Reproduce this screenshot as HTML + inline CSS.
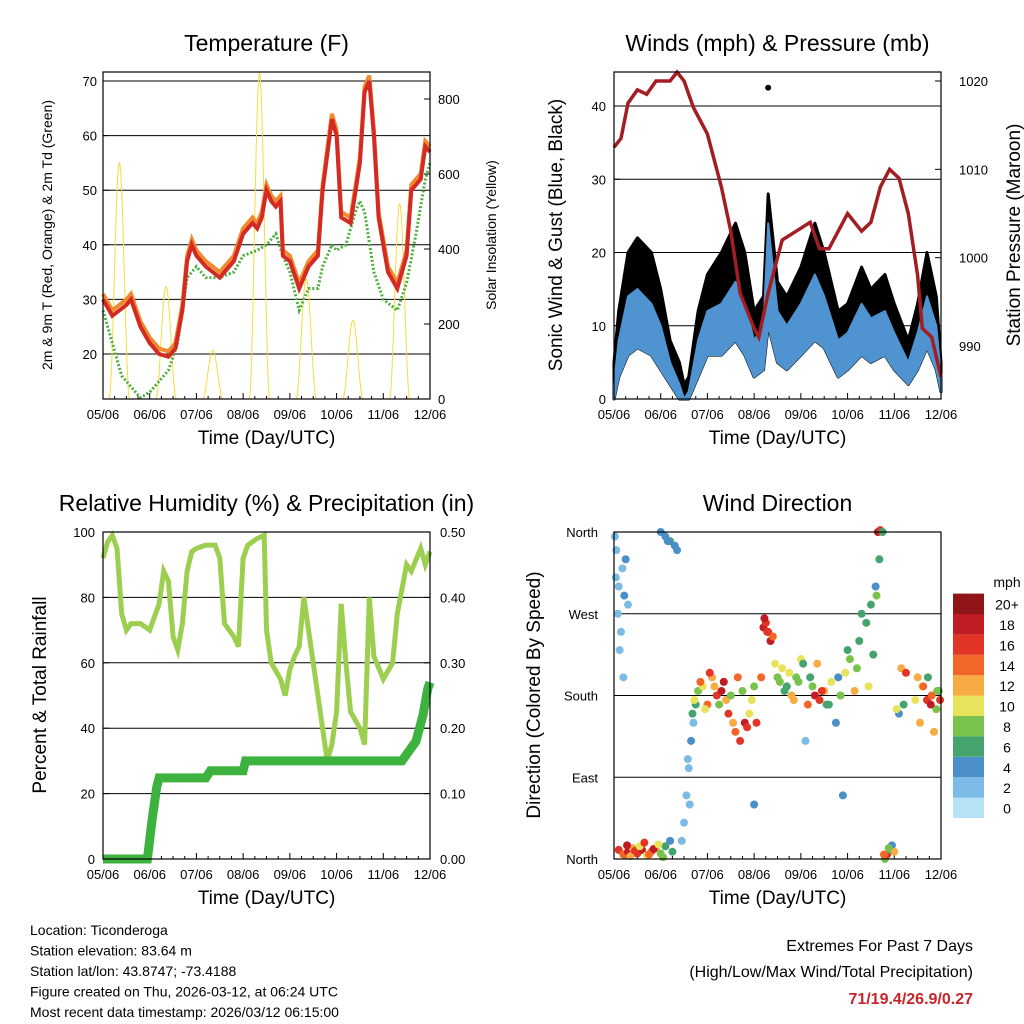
<!DOCTYPE html>
<html><head><meta charset="utf-8"><style>
body{margin:0;background:#fff;font-family:"Liberation Sans",Arial,sans-serif;}
svg{display:block}
text{font-family:"Liberation Sans",Arial,sans-serif;fill:#000}
</style></head><body>
<svg id="c" width="1024" height="1024" viewBox="0 0 1024 1024"></svg>
<script>
// ---------- DATA ----------
const dayLabels=["05/06","06/06","07/06","08/06","09/06","10/06","11/06","12/06"];
const tempT=[0,0.2,0.5,0.6,0.8,1.0,1.2,1.4,1.55,1.7,1.8,1.9,2.0,2.2,2.5,2.8,3.0,3.2,3.3,3.4,3.5,3.6,3.7,3.8,3.85,4.0,4.2,4.4,4.6,4.7,4.9,5.0,5.1,5.3,5.5,5.6,5.7,5.8,5.9,6.1,6.3,6.5,6.6,6.8,6.9,7.0];
const tempRed=[30,27,29,30,25,22,20,19.5,21,28,37,40,38,36,34,37,42,44,43,45,50,48,47,48,38,37,32,36,38,50,63,60,45,44,55,68,70,60,45,35,32,38,50,52,58,57];
const dewT=[0,0.2,0.4,0.6,0.8,1.0,1.2,1.4,1.6,1.8,2.0,2.2,2.5,2.8,3.0,3.3,3.5,3.7,3.85,4.0,4.2,4.4,4.6,4.7,4.9,5.0,5.2,5.4,5.5,5.6,5.8,6.0,6.3,6.5,6.7,6.9,7.0];
const dewGreen=[28,22,16,14,12,13,15,17,22,34,36,34,34,35,38,39,40,42,38,35,28,32,32,36,40,39,40,46,48,46,35,30,28,33,42,52,55];
const solarPeakT=[0.35,1.35,2.35,3.35,4.35,5.35,6.35];
const solarPeak=[630,300,130,870,320,210,520];
const windT=[0,0.1,0.3,0.5,0.8,1.0,1.2,1.4,1.5,1.6,1.8,2.0,2.3,2.6,2.8,3.0,3.2,3.3,3.5,3.7,4.0,4.3,4.5,4.8,5.0,5.3,5.5,5.8,6.0,6.3,6.5,6.7,6.9,7.0];
const windMean=[2,8,14,15,13,10,5,2,0,1,8,12,13,16,13,8,10,24,12,10,13,17,14,8,9,13,11,12,9,5,9,14,10,3];
const windLow=[0,3,6,7,6,4,2,0,0,0,3,6,6,8,6,3,4,10,5,4,6,8,7,3,4,6,5,6,4,2,4,7,4,1];
const windGust=[5,12,20,22,20,15,8,5,2,3,12,17,20,24,20,12,14,28,16,14,18,24,20,12,13,18,15,17,13,8,13,20,14,5];
const presT=[0,0.15,0.3,0.5,0.7,0.9,1.2,1.35,1.5,1.7,2.0,2.3,2.5,2.7,3.0,3.1,3.3,3.6,3.9,4.2,4.4,4.6,4.8,5.0,5.3,5.5,5.7,5.9,6.1,6.3,6.5,6.6,6.8,7.0];
const pressure=[1012.5,1013.5,1017.5,1019,1018.5,1020,1020,1021,1020,1017,1014,1008,1003,996,992,991,996,1002,1003,1004,1001,1001,1003,1005,1003,1004,1008,1010,1009,1005,998,992,991,986.5];
const rhT=[0,0.1,0.2,0.3,0.4,0.5,0.6,0.8,1.0,1.2,1.3,1.4,1.5,1.6,1.7,1.8,1.9,2.0,2.2,2.4,2.5,2.6,2.8,2.9,3.0,3.1,3.3,3.45,3.5,3.6,3.8,3.9,4.0,4.1,4.2,4.3,4.5,4.7,4.8,4.9,5.0,5.1,5.2,5.3,5.5,5.6,5.7,5.8,6.0,6.2,6.3,6.5,6.6,6.8,6.9,7.0];
const rh=[92,97,99,95,75,70,72,72,70,78,88,85,68,64,72,88,94,95,96,96,92,72,68,65,92,96,98,99,70,60,55,50,58,62,65,80,60,40,30,35,45,78,60,45,40,35,80,62,55,60,75,90,88,95,90,94];
const precT=[0,0.95,1.05,1.15,1.2,2.2,2.3,3.0,3.05,6.4,6.5,6.7,6.85,6.95,7.0];
const precip=[0,0,0.06,0.11,0.124,0.124,0.135,0.135,0.15,0.15,0.16,0.18,0.22,0.26,0.27];
const dirT=[0.05,0.1,0.15,0.2,0.25,0.3,0.1,0.2,0.3,0.4,0.5,0.6,0.7,0.8,0.9,1.0,1.1,1.2,1.0,1.1,1.2,1.3,1.5,1.55,1.6,1.65,1.7,1.75,1.8,1.9,2.0,2.1,2.2,2.3,2.4,2.5,2.6,2.7,2.8,2.85,2.9,3.0,3.2,3.25,3.3,3.35,3.4,3.5,3.6,3.7,3.8,3.9,4.0,4.2,4.3,4.4,4.5,4.6,4.8,5.0,5.2,5.4,5.5,5.6,5.65,5.7,5.75,5.8,5.85,5.9,5.95,6.0,6.1,6.2,6.5,6.6,6.7,6.8,6.9,6.95,3.0,4.1,4.9,5.3,
 0.02,0.04,0.08,0.12,0.18,0.22,0.28,0.35,0.45,0.55,0.65,0.75,0.85,0.95,1.05,1.15,1.25,1.35,1.45,1.58,1.62,1.68,1.72,1.85,1.95,2.05,2.15,2.25,2.35,2.45,2.55,2.65,2.75,2.95,3.05,3.15,3.22,3.28,3.45,3.55,3.65,3.75,3.85,3.95,4.05,4.15,4.25,4.35,4.45,4.55,4.65,4.75,4.85,4.95,5.05,5.15,5.25,5.45,5.55,5.62,5.68,5.78,5.88,6.05,6.15,6.25,6.45,6.55,6.62,6.72,6.78,6.85,6.92,6.98];
const dirDeg=[340,300,250,200,330,280,10,5,8,12,6,10,4,8,12,6,14,20,360,355,350,345,40,70,100,130,150,170,185,190,170,200,180,185,175,180,140,130,150,145,160,190,255,260,250,240,245,200,210,190,180,200,220,200,180,175,185,170,200,230,210,260,280,300,360,362,360,0,5,10,15,8,160,170,200,190,175,180,165,185,60,130,70,270,
 355,310,270,230,320,290,15,3,9,14,18,5,11,16,2,350,8,340,20,110,60,160,175,195,165,205,190,170,195,160,150,200,185,175,150,200,265,250,215,195,185,205,175,195,215,170,190,215,185,170,195,150,180,205,220,185,240,190,225,290,330,5,12,165,210,205,175,150,190,200,170,140,185,175];
const dirSpd=[1,2,2,1,3,2,16,14,18,12,15,17,10,14,12,8,6,4,4,3,5,4,2,1,2,3,2,6,8,10,14,12,16,17,12,8,13,15,17,16,10,7,18,16,15,17,14,8,10,6,12,8,10,5,17,16,12,6,4,6,8,6,5,3,18,16,6,8,16,6,4,12,4,6,12,10,16,14,8,6,3,2,3,6,
 1,2,1,2,1,3,17,12,15,10,16,13,18,9,7,4,5,3,1,2,1,6,10,14,9,16,12,8,17,15,11,13,7,9,16,14,17,15,10,8,6,9,12,7,5,14,8,11,16,6,9,4,7,10,8,12,6,9,5,7,6,14,8,10,12,16,9,11,14,6,18,12,8,15];
const cbColors=["#b6e2f8","#7cbbe6","#4a8fc8","#45a46e","#7ac24e","#e7e35a","#f7ab45","#f26627","#e23527","#c01c24","#901518"];
const cbLabels=["0","2","4","6","8","10","12","14","16","18","20+"];

// ---------- HELPERS ----------
const svg=document.getElementById('c');
const NS="http://www.w3.org/2000/svg";
function el(tag,attrs,parent){const e=document.createElementNS(NS,tag);for(const k in attrs)e.setAttribute(k,attrs[k]);(parent||svg).appendChild(e);return e;}
function txt(x,y,s,size,anchor,parent,rot){const t=el('text',{x:x,y:y,'font-size':size,'text-anchor':anchor||'middle'},parent);if(rot)t.setAttribute('transform',`rotate(${rot} ${x} ${y})`);t.textContent=s;return t;}
function lin(d0,d1,r0,r1){return v=>r0+(v-d0)/(d1-d0)*(r1-r0);}
function path(ts,vs,xf,yf){return ts.map((t,i)=>(i?'L':'M')+xf(t).toFixed(1)+','+yf(vs[i]).toFixed(1)).join('');}
function band(ts,hi,lo,xf,yf){let d=path(ts,hi,xf,yf);for(let i=ts.length-1;i>=0;i--)d+='L'+xf(ts[i]).toFixed(1)+','+yf(lo[i]).toFixed(1);return d+'Z';}

function panel(name,x0,y0,x1,y1,title){
  const g=el('g',{});
  
  
  const tt=txt((x0+x1)/2,y0-21,title,23,'middle',g);
  
  
  return g;
}
function frame(g,x0,y0,x1,y1){
  const r=el('rect',{x:x0,y:y0,width:x1-x0,height:y1-y0,fill:'none',stroke:'#000','stroke-width':1.2},g);
  
  
}
function xAxis(g,x0,x1,y1){
  const xf=lin(0,7,x0,x1);
  for(let i=0;i<8;i++){const x=xf(i);el('line',{x1:x,y1:y1,x2:x,y2:y1-6,stroke:'#000'},g);
    const t=txt(x,y1+20,dayLabels[i],13,'middle',g);
    
    
    if(i<7)for(let k=1;k<4;k++){const xm=xf(i+k/4);el('line',{x1:xm,y1:y1,x2:xm,y2:y1-3,stroke:'#000'},g);}
  }
  const at=txt((x0+x1)/2,y1+45,'Time (Day/UTC)',19,'middle',g);
  
  
  return xf;
}

// ---------- PANEL 1: TEMPERATURE ----------
(function(){
  const x0=103,x1=430,y0=72,y1=399;
  const g=panel('temperature-panel',x0,y0,x1,y1,'Temperature (F)');
  const xf=xAxis(g,x0,x1,y1);
  const yf=lin(20,70,354,81);
  const sf=lin(0,800,399,99);
  [20,30,40,50,60,70].forEach(v=>{el('line',{x1:x0,x2:x1,y1:yf(v),y2:yf(v),stroke:'#000','stroke-width':1},g);
    el('line',{x1:x0,x2:x0+6,y1:yf(v),y2:yf(v),stroke:'#000'},g);
    const t=txt(x0-6,yf(v)+5,String(v),13,'end',g);});
  [0,200,400,600,800].forEach(v=>{el('line',{x1:x1-6,x2:x1,y1:sf(v),y2:sf(v),stroke:'#000'},g);
    const t=txt(x1+8,sf(v)+5,String(v),13,'start',g);});
  const sT=[],sV=[];
  for(let d=0;d<=7.001;d+=0.01){let v=0;solarPeakT.forEach((p,i)=>{const dx=(d-p)/0.22;if(Math.abs(dx)<1)v=Math.max(v,solarPeak[i]*Math.cos(dx*Math.PI/2)**2);});sT.push(d);sV.push(v);}
  const sp=el('path',{d:path(sT,sV,xf,v=>Math.max(y0,sf(v))),fill:'none',stroke:'#f6dc3c','stroke-width':1},g);
  
  const dg=el('path',{d:path(dewT,dewGreen,xf,yf),fill:'none',stroke:'#4caf3c','stroke-width':3,'stroke-dasharray':'2 2'},g);
  
  const or=el('path',{d:path(tempT,tempRed.map(v=>v+1),xf,yf),fill:'none',stroke:'#f08a30','stroke-width':4},g);
  
  const rd=el('path',{d:path(tempT,tempRed,xf,yf),fill:'none',stroke:'#d42a24','stroke-width':4},g);
  
  frame(g,x0,y0,x1,y1);
  const yl=txt(52,235,'2m & 9m T (Red, Orange) & 2m Td (Green)',14,'middle',g,-90);
  const yr=txt(496,235,'Solar Insolation (Yellow)',14,'middle',g,-90);
})();

// ---------- PANEL 2: WINDS ----------
(function(){
  const x0=614,x1=941,y0=72,y1=399;
  const g=panel('winds-panel',x0,y0,x1,y1,'Winds (mph) & Pressure (mb)');
  const xf=xAxis(g,x0,x1,y1);
  const yf=lin(0,40,399,106);
  const pf=lin(990,1020,346,81);
  [10,20,30,40].forEach(v=>el('line',{x1:x0,x2:x1,y1:yf(v),y2:yf(v),stroke:'#000'},g));
  [0,10,20,30,40].forEach(v=>{el('line',{x1:x0,x2:x0+6,y1:yf(v),y2:yf(v),stroke:'#000'},g);
    const t=txt(x0-8,yf(v)+5,String(v),13,'end',g);});
  [990,1000,1010,1020].forEach(v=>{el('line',{x1:x1-6,x2:x1,y1:pf(v),y2:pf(v),stroke:'#000'},g);
    const t=txt(x1+18,pf(v)+5,String(v),13,'start',g);});
  const gp=el('path',{d:band(windT,windGust,windLow,xf,yf),fill:'#000',stroke:'#000','stroke-width':3,'stroke-linejoin':'round'},g);
  
  const wp=el('path',{d:band(windT,windMean,windLow,xf,yf),fill:'#4f93d0',stroke:'#4f93d0','stroke-width':2,'stroke-linejoin':'round'},g);
  
  const pp=el('path',{d:path(presT,pressure,xf,pf),fill:'none',stroke:'#a31e22','stroke-width':3.5},g);
  
  const od=el('circle',{cx:xf(3.3),cy:yf(42.5),r:3,fill:'#000'},g);
  
  frame(g,x0,y0,x1,y1);
  const yl=txt(562,235,'Sonic Wind & Gust (Blue, Black)',19,'middle',g,-90);
  const yr=txt(1020,235,'Station Pressure (Maroon)',19,'middle',g,-90);
})();

// ---------- PANEL 3: RH & PRECIP ----------
(function(){
  const x0=103,x1=430,y0=532,y1=859;
  const g=panel('humidity-panel',x0,y0,x1,y1,'Relative Humidity (%) & Precipitation (in)');
  const xf=xAxis(g,x0,x1,y1);
  const yf=lin(0,100,859,532);
  const pf=lin(0,0.5,859,532);
  [20,40,60,80].forEach(v=>el('line',{x1:x0,x2:x1,y1:yf(v),y2:yf(v),stroke:'#000'},g));
  [0,20,40,60,80,100].forEach(v=>{el('line',{x1:x0,x2:x0+6,y1:yf(v),y2:yf(v),stroke:'#000'},g);
    const t=txt(x0-8,yf(v)+5,String(v),13,'end',g);});
  [0,0.1,0.2,0.3,0.4,0.5].forEach(v=>{el('line',{x1:x1-6,x2:x1,y1:pf(v),y2:pf(v),stroke:'#000'},g);
    const t=txt(x1+10,pf(v)+5,v.toFixed(2),13,'start',g);});
  const rp=el('path',{d:path(rhT,rh,xf,yf),fill:'none',stroke:'#9ccf4f','stroke-width':5},g);
  
  const pp=el('path',{d:path(precT,precip,xf,pf),fill:'none',stroke:'#3db23e','stroke-width':9},g);
  
  frame(g,x0,y0,x1,y1);
  const yl=txt(46,695,'Percent & Total Rainfall',19,'middle',g,-90);
})();

// ---------- PANEL 4: WIND DIRECTION ----------
(function(){
  const x0=614,x1=941,y0=532,y1=859;
  const g=panel('wind-direction-panel',x0,y0,x1,y1,'Wind Direction');
  const xf=xAxis(g,x0,x1,y1);
  const yf=lin(0,360,859,532);
  const names=['North','East','South','West','North'];
  [0,90,180,270,360].forEach((v,i)=>{el('line',{x1:x0,x2:x1,y1:yf(v),y2:yf(v),stroke:'#000'},g);
    const t=txt(x0-16,yf(v)+5,names[i],13,'end',g);});
  dirT.forEach((t,i)=>{const ci=Math.min(10,Math.round(dirSpd[i]/2));
    const c=el('circle',{cx:xf(t),cy:yf(Math.min(362,dirDeg[i])),r:4,fill:cbColors[ci]},g);
    
    });
  frame(g,x0,y0,x1,y1);
  const yl=txt(540,695,'Direction (Colored By Speed)',19,'middle',g,-90);
  const lg=el('g',{},g);
  
  
  txt(1007,587,'mph',14,'middle',lg);
  cbColors.forEach((c,i)=>{const y=818-(i+1)*20.4;
    const r=el('rect',{x:953,y:y,width:31,height:20.4,fill:c},lg);
    
    txt(1007,y+16,cbLabels[i],14,'middle',lg);});
})();

// ---------- FOOTER ----------
const info=["Location: Ticonderoga","Station elevation: 83.64 m","Station lat/lon: 43.8747; -73.4188","Figure created on Thu, 2026-03-12, at 06:24 UTC","Most recent data timestamp: 2026/03/12 06:15:00"];
const fg=el('g',{});


info.forEach((s,i)=>txt(30,935+i*20.5,s,14,'start',fg));
const eg=el('g',{});


txt(973,951,'Extremes For Past 7 Days',16,'end',eg);
txt(973,977,'(High/Low/Max Wind/Total Precipitation)',16,'end',eg);
const ex=txt(973,1004,'71/19.4/26.9/0.27',16,'end',eg);
ex.setAttribute('fill','#c8242a');ex.setAttribute('font-weight','bold');ex.style.fill='#c8242a';
</script>
</body></html>
